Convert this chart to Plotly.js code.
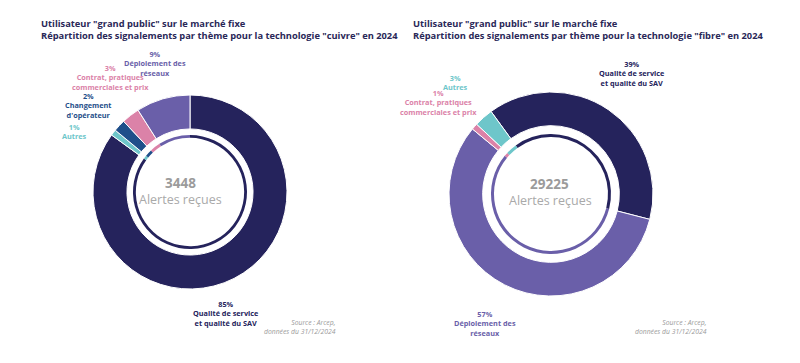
<!DOCTYPE html>
<html><head><meta charset="utf-8">
<script src="https://cdn.plot.ly/plotly-3.0.1.min.js"></script>
<style>html,body{margin:0;padding:0;background:#fff}#chart{width:800px;height:363px}</style>
</head><body><div id="chart"></div>
<script>
// Left chart: copper ("cuivre")
const cuivreLabels = ["Qualité de service et qualité du SAV", "Autres", "Changement d'opérateur", "Contrat, pratiques commerciales et prix", "Déploiement des réseaux"];
const cuivreValues = [85, 1, 2, 3, 9];
const cuivreColors = ["#25235c", "#6ec6ca", "#1f4f8a", "#db82a8", "#6a5fa9"];
const cuivreTotal = "3448";

// Right chart: fibre
const fibreLabels = ["Qualité de service et qualité du SAV", "Déploiement des réseaux", "Contrat, pratiques commerciales et prix", "Autres"];
const fibreValues = [39, 57, 1, 3];
const fibreColors = ["#25235c", "#6a5fa9", "#db82a8", "#6ec6ca"];
const fibreTotal = "29225";

const W = 800, H = 363;
function dom(cx, cy, r) {
  return {x: [(cx - r) / W, (cx + r) / W], y: [(H - cy - r) / H, (H - cy + r) / H]};
}
function ring(labels, values, colors, d, hole, rot, lw) {
  return {type: "pie", labels: labels, values: values, domain: d, hole: hole,
    sort: false, direction: "clockwise", rotation: rot, textinfo: "none",
    hoverinfo: "label+percent", showlegend: false,
    marker: {colors: colors, line: {color: "#ffffff", width: lw}}};
}
const L = {cx: 190, cy: 192, r: 97, rin: 57};
const R = {cx: 551, cy: 194, r: 102, rin: 60};
const data = [
  ring(cuivreLabels, cuivreValues, cuivreColors, dom(L.cx, L.cy, L.r), 0.65, 0, 1),
  ring(cuivreLabels, cuivreValues, cuivreColors, dom(L.cx, L.cy, L.rin), 0.95, 0, 0),
  ring(fibreLabels, fibreValues, fibreColors, dom(R.cx, R.cy, R.r), 0.67, -36, 1),
  ring(fibreLabels, fibreValues, fibreColors, dom(R.cx, R.cy, R.rin), 0.95, -36, 0)
];

const F = "Open Sans, sans-serif";
function ann(x, y, text, color, size, opts) {
  return Object.assign({xref: "paper", yref: "paper", x: x / W, y: 1 - y / H, text: text,
    showarrow: false, xanchor: "center", yanchor: "middle", borderpad: 0,
    font: {family: F, size: size, color: color}}, opts || {});
}
const navy = "#25235c", purple = "#6a5fa9", pink = "#db82a8", blue = "#1f4f8a", teal = "#6ec6ca";
function lab(v, name) { return "<b>" + v + "%<br>" + name + "</b>"; }
const LS = 7.3;
const annotations = [
  ann(40, 30, "<b>Utilisateur \"grand public\" sur le marché fixe<br>Répartition des signalements par thème pour la technologie \"cuivre\" en 2024</b>", "#2a2858", 9.3, {xanchor: "left", align: "left"}),
  ann(412, 30, "<b>Utilisateur \"grand public\" sur le marché fixe<br>Répartition des signalements par thème pour la technologie \"fibre\" en 2024</b>", "#2a2858", 9.3, {xanchor: "left", align: "left"}),
  // left labels
  ann(155, 63.5, lab(cuivreValues[4], "Déploiement des<br>réseaux"), purple, LS),
  ann(110, 78, lab(cuivreValues[3], "Contrat, pratiques<br>commerciales et prix"), pink, LS),
  ann(88, 105.5, lab(cuivreValues[2], "Changement<br>d'opérateur"), blue, LS),
  ann(74, 131, lab(cuivreValues[1], "Autres"), teal, LS),
  ann(225, 313.5, lab(cuivreValues[0], "Qualité de service<br>et qualité du SAV"), navy, LS),
  ann(337, 327, "<i>Source : Arcep,<br>données du 31/12/2024</i>", "#9a9a9a", 6.8, {xanchor: "right", align: "right"}),
  ann(180, 183, "<b>" + cuivreTotal + "</b>", "#9b9b9b", 13.5),
  ann(180, 199, "Alertes reçues", "#a9a9a9", 12.5),
  // right labels
  ann(631, 73, lab(fibreValues[0], "Qualité de service<br>et qualité du SAV"), navy, LS),
  ann(455, 83, lab(fibreValues[3], "Autres"), teal, LS),
  ann(438, 102.5, lab(fibreValues[2], "Contrat, pratiques<br>commerciales et prix"), pink, LS),
  ann(485, 323.5, lab(fibreValues[1], "Déploiement des<br>réseaux"), purple, LS),
  ann(708, 327, "<i>Source : Arcep,<br>données du 31/12/2024</i>", "#9a9a9a", 6.8, {xanchor: "right", align: "right"}),
  ann(549, 184, "<b>" + fibreTotal + "</b>", "#9b9b9b", 13.5),
  ann(550, 200, "Alertes reçues", "#a9a9a9", 12.5)
];

const layout = {width: W, height: H, margin: {l: 0, r: 0, t: 0, b: 0},
  paper_bgcolor: "#ffffff", plot_bgcolor: "#ffffff", showlegend: false,
  font: {family: F}, annotations: annotations};
Plotly.newPlot("chart", data, layout, {displayModeBar: false, staticPlot: true});
</script></body></html>
